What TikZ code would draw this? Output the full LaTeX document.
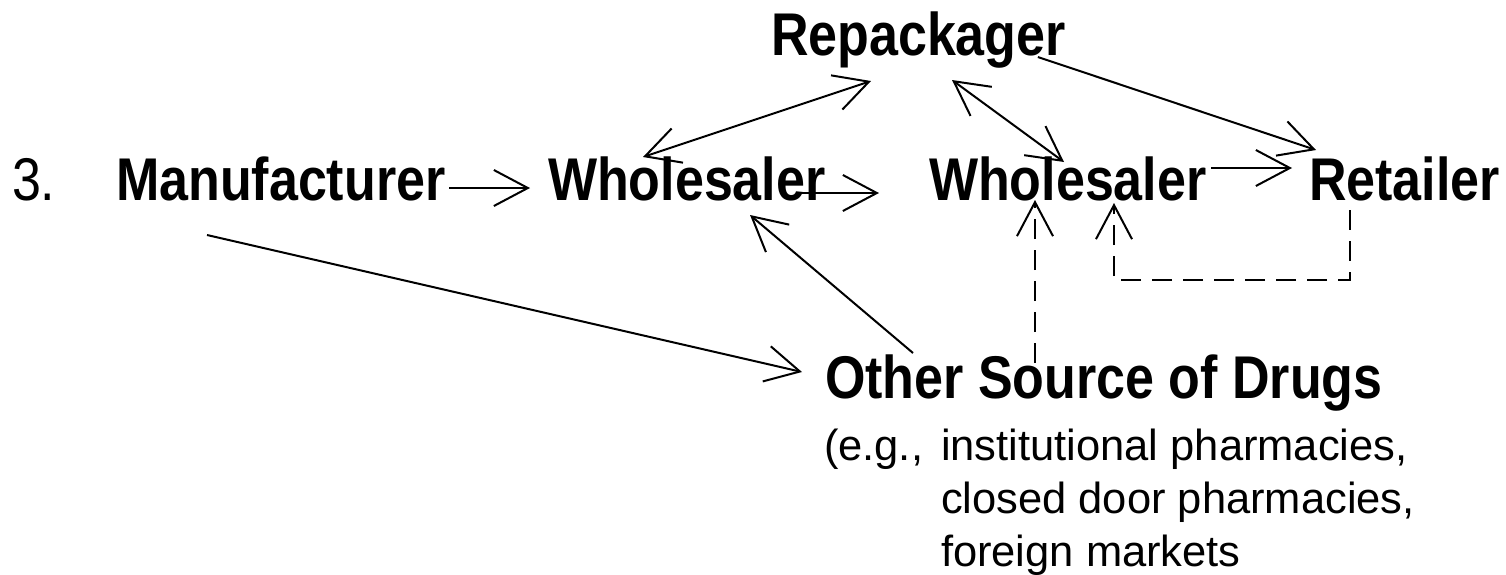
\documentclass[tikz,border=0pt]{standalone}
\usepackage{fontspec}
\usepackage{graphicx}
\setmainfont{Liberation Sans}
\usetikzlibrary{arrows.meta,calc}

\newcommand{\tall}[1]{\scalebox{1}[1.16]{#1}}

\begin{document}
\begin{tikzpicture}[x=0.5pt,y=-0.5pt,line width=1pt,
  >={Straight Barb[length=17pt,width=18pt]},
  lbl/.style={anchor=base west,inner sep=0pt,font=\fontsize{26}{30}\selectfont\bfseries},
  note/.style={anchor=base west,inner sep=0pt,font=\fontsize{21.75}{26.5}\selectfont},
  dsh/.style={dash pattern=on 10pt off 5.5pt}]
\useasboundingbox (0,0) rectangle (1506,574);
% the chain
\node[anchor=base west,inner sep=0pt,font=\fontsize{26}{30}\selectfont] (num) at (11,200) {\tall{3.}};
\node[lbl] (manu) at (115,200) {\tall{Manufacturer}};
\node[lbl] (whole1) at (547,200) {\tall{Wholesaler}};
\node[lbl] (whole2) at (928,200) {\tall{Wholesaler}};
\node[lbl] (retail) at (1308,200) {\tall{Retailer}};
\node[lbl] (repack) at (770,55) {\tall{Repackager}};
\node[lbl] (other) at (824,398) {\tall{Other Source of Drugs}};
\node[note] (eg) at (823,460) {(e.g.,};
\node[note] (list) at (940,460) {\begin{tabular}[t]{@{}l@{}}institutional pharmacies,\\closed door pharmacies,\\foreign markets\end{tabular}};
% arrows
\draw[->] ($(manu.base east)+(3,-12)$) -- ($(whole1.base west)+(-17,-12)$);
\draw[->] ($(whole1.base east)+(-26,-7)$) -- ($(whole2.base west)+(-49,-7)$);
\draw[->] ($(whole2.base east)+(4,-32)$) -- ($(retail.base west)+(-16,-32)$);
\draw[<->] ($(whole1.base west)+(96,-43)$) -- ($(repack.base west)+(101,26)$);
\draw[<->] ($(repack.base west)+(182,25)$) -- ($(whole2.base west)+(136,-38)$);
\draw[->] ($(repack.base east)+(-29,2)$) -- ($(retail.base west)+(8,-50)$);
\draw[->] ($(manu.base west)+(92,35)$) -- ($(other.base west)+(-22,-26)$);
\draw[->] ($(other.base west)+(89,-45)$) -- ($(whole1.base west)+(203,15)$);
% dashed returns
\coordinate (up) at ($(other.base west)+(211,-35)$);
\draw[dsh,->] (up) -- (up |- whole2.base);
\draw[dsh,->] ($(retail.base west)+(42,10)$) -- ++(0,70) -| ($(whole2.base west)+(186,3)$);
\end{tikzpicture}
\end{document}
